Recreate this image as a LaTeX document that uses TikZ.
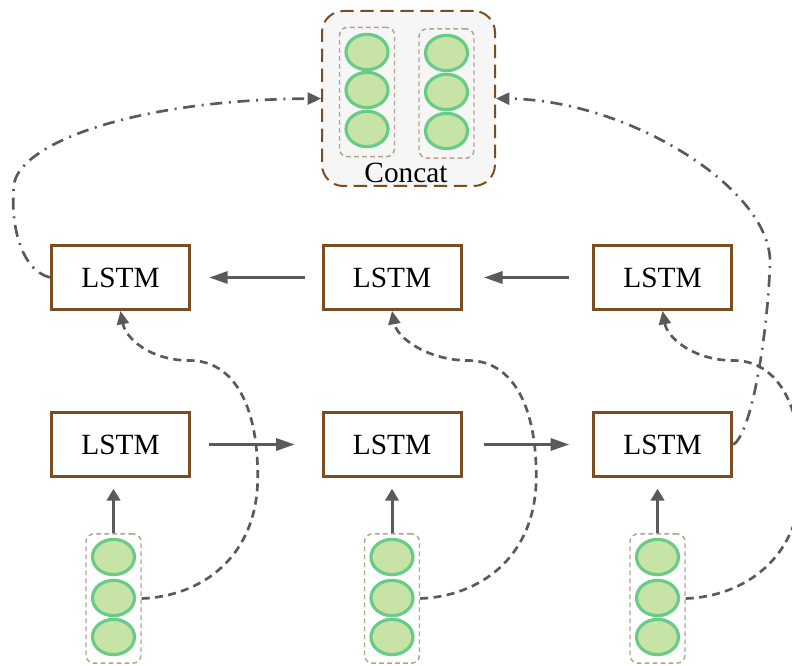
\documentclass[tikz,border=0pt]{standalone}
\usepackage{fontspec}
\setmainfont{Liberation Serif}
\usetikzlibrary{arrows.meta,shapes.geometric,calc}
\definecolor{boxbrown}{HTML}{7A4E1E}
\definecolor{arrgray}{HTML}{5A5A5A}
\definecolor{cellgreen}{HTML}{C8E3A6}
\definecolor{cellring}{HTML}{6ACB88}
\definecolor{coltan}{HTML}{B5A28A}
\definecolor{concatbg}{HTML}{F6F6F6}

\begin{document}
\begin{tikzpicture}[x=0.75pt,y=-0.75pt,
  lstm/.style={draw=boxbrown,line width=2.25pt,fill=white,minimum width=103.5pt,
    minimum height=48pt,inner sep=0pt,font=\fontsize{22}{26}\selectfont},
  cell/.style={ellipse,draw=cellring,line width=2.4pt,fill=cellgreen,
    minimum width=31.5pt,minimum height=26.5pt,inner sep=0pt},
  column/.style={draw=coltan,line width=1.1pt,dash pattern=on 3.5pt off 2.5pt,
    rounded corners=6pt,minimum width=41.25pt,minimum height=97pt,inner sep=0pt},
  concatbox/.style={draw=boxbrown,line width=1.5pt,dash pattern=on 10pt off 5pt,
    rounded corners=16pt,fill=concatbg,minimum width=129.75pt,minimum height=131.25pt,inner sep=0pt},
  flow/.style={draw=arrgray,line width=2.25pt,-{Triangle[length=14pt,width=9pt]}},
  upflow/.style={draw=arrgray,line width=2.25pt,-{Triangle[length=9pt,width=10pt]}},
  skip/.style={draw=arrgray,line width=2pt,dash pattern=on 6pt off 4pt,
    -{Triangle[length=10pt,width=9pt]}},
  merge/.style={draw=arrgray,line width=2pt,dash pattern=on 9pt off 5pt on 1.5pt off 5pt,
    -{Triangle[length=10pt,width=9pt]}}]

\useasboundingbox (0,0) rectangle (792,666);

% concatenation block
\node[concatbox] (cc) at (408.5,98.5) {};
\node[column] (c1) at (367,92) {};
\node[column] (c2) at (446.5,93.5) {};
\foreach \k/\y in {a/52,b/90,c/129} \node[cell] (c1\k) at (367,\y) {};
\foreach \k/\y in {a/53,b/92,c/131} \node[cell] (c2\k) at (446.5,\y) {};
\node[font=\fontsize{22}{26}\selectfont] (ct) at (406,173) {Concat};

% backward layer (top) and forward layer (bottom)
\node[lstm] (b1) at (120.5,277.5) {LSTM};
\node[lstm] (b2) at (392,277.5) {LSTM};
\node[lstm] (b3) at (662.5,277.5) {LSTM};
\node[lstm] (f1) at (120.5,444.5) {LSTM};
\node[lstm] (f2) at (392,444.5) {LSTM};
\node[lstm] (f3) at (662.5,444.5) {LSTM};

% input vectors
\foreach \n/\x in {1/113.5,2/392,3/657.5}{
  \node[column] (x\n) at (\x,598.5) {};
  \node[cell] (x\n a) at (\x,557) {};
  \node[cell] (x\n b) at (\x,598) {};
  \node[cell] (x\n c) at (\x,637) {};
}

% recurrent connections
\draw[flow] ([xshift=-12.75pt]b2.west) -- ([xshift=13.5pt]b1.east);
\draw[flow] ([xshift=-17pt]b3.west) -- ([xshift=16pt]b2.east);
\draw[flow] ([xshift=13.5pt]f1.east) -- ([xshift=-20pt]f2.west);
\draw[flow] ([xshift=16pt]f2.east) -- ([xshift=-17pt]f3.west);

% inputs into the forward layer
\foreach \n in {1,2,3}
  \draw[upflow] (x\n.north) -- ([yshift=-8pt]x\n.north |- f\n.south);

% inputs looping round into the backward layer
\foreach \n in {1,2,3}{
  \coordinate (s\n) at (x\n.east);
  \draw[skip] (s\n) .. controls ($(s\n)+(58,-2)$) and ($(s\n)+(116,-40)$) .. ($(s\n)+(116,-122)$)
    .. controls ($(s\n)+(116,-200)$) and ($(s\n)+(88,-238)$) .. ($(s\n)+(48,-238)$)
    .. controls ($(s\n)+(8,-238)$) and ($(b\n.south)+(5,27)$) .. (b\n.south);
}

% outputs gathered into the concatenation
\draw[merge] (b1.west) .. controls (20,270) and (10,222) .. (14,185)
  .. controls (18,145) and (130,100) .. (cc.west);
\draw[merge] (f3.east) .. controls (752,435) and (768,330) .. (770,263)
  .. controls (772,190) and (630,100) .. (cc.east);
\end{tikzpicture}
\end{document}
